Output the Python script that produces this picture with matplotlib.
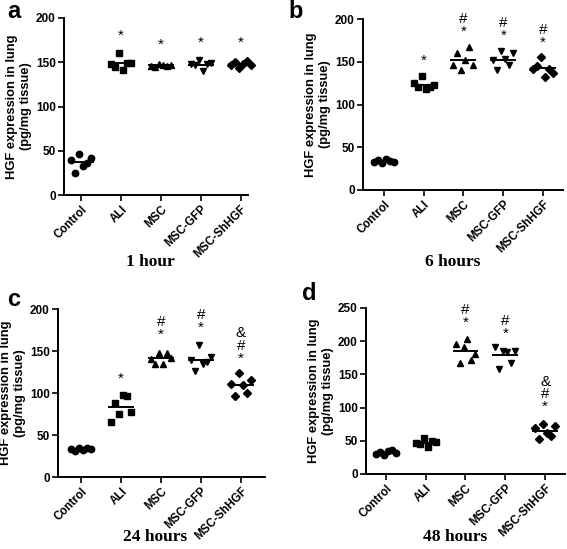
import matplotlib
matplotlib.use("Agg")
import matplotlib.pyplot as plt
import numpy as np

plt.rcParams['font.family'] = ['Liberation Sans', 'DejaVu Sans']

categories = ["Control", "ALI", "MSC", "MSC-GFP", "MSC-ShHGF"]
markers = ["o", "s", "^", "v", "D"]

# values per group (6 animals), panel a..d
a_vals = [[40, 25, 46, 33, 36, 42],
          [148, 145, 160, 141, 149, 149],
          [146, 145, 148, 147, 146, 147],
          [148, 147, 152, 140, 148, 149],
          [147, 150, 144, 148, 151, 147]]
b_vals = [[33, 35, 32, 36, 34, 33],
          [125, 120, 133, 118, 121, 123],
          [146, 160, 140, 152, 167, 146],
          [152, 140, 162, 153, 146, 160],
          [141, 145, 156, 132, 142, 137]]
c_vals = [[33, 31, 34, 32, 35, 33],
          [66, 88, 75, 98, 96, 77],
          [141, 135, 148, 135, 148, 142],
          [139, 126, 157, 135, 137, 143],
          [111, 97, 124, 110, 100, 115]]
d_vals = [[30, 33, 28, 35, 36, 32],
          [47, 45, 54, 40, 49, 48],
          [196, 167, 191, 203, 171, 180],
          [192, 158, 185, 184, 167, 185],
          [69, 52, 76, 62, 57, 73]]

# significance annotations: (group index, stacked symbols top-to-bottom, y of block centre)
a_sig = [(1, "*", 180), (2, "*", 170), (3, "*", 172), (4, "*", 172)]
b_sig = [(1, "*", 151), (2, "#\n*", 193), (3, "#\n*", 188), (4, "#\n*", 180)]
c_sig = [(1, "*", 117), (2, "#\n*", 177), (3, "#\n*", 185), (4, "&\n#\n*", 156)]
d_sig = [(2, "#\n*", 238), (3, "#\n*", 221), (4, "&\n#\n*", 120)]

titles = ["1 hour", "6 hours", "24 hours", "48 hours"]
letters = ["a", "b", "c", "d"]
ymax = [200, 200, 200, 250]
yticks = [np.arange(0, 201, 50), np.arange(0, 201, 50), np.arange(0, 201, 50), np.arange(0, 251, 50)]

W, H = 567, 549
fig = plt.figure(figsize=(W / 100, H / 100), dpi=100)

# axes boxes in pixels: left, right, top, bottom ; xlim
boxes = [(64, 248, 18, 195, (-0.43, 4.18)),
         (363, 563, 19, 190, (-0.52, 4.5)),
         (58, 265, 309, 477, (-0.57, 4.6)),
         (366, 565, 308, 474, (-0.5, 4.5))]

offsets = np.array([-0.25, -0.15, -0.05, 0.05, 0.15, 0.25])
all_vals = [a_vals, b_vals, c_vals, d_vals]
all_sig = [a_sig, b_sig, c_sig, d_sig]

for i in range(4):
    l, r, t, b, xl = boxes[i]
    ax = fig.add_axes([l / W, 1 - b / H, (r - l) / W, (b - t) / H])
    for g, vals in enumerate(all_vals[i]):
        v = np.array(vals, dtype=float)
        ms = 4.6 if markers[g] != "D" else 3.6
        ax.plot(g + offsets, v, linestyle="none", marker=markers[g], color="black",
                markersize=ms, clip_on=False)
        m = v.mean()
        ax.plot([g - 0.3, g + 0.3], [m, m], color="black", lw=1.4)
    for g, lab, y in all_sig[i]:
        ax.text(g, y, lab, ha="center", va="center", fontsize=11, color="black",
                linespacing=0.88, multialignment="center")
    ax.set_xlim(*xl)
    ax.set_ylim(0, ymax[i])
    ax.set_yticks(yticks[i])
    ax.set_xticks(range(5))
    ax.set_xticklabels(categories, rotation=45, ha="right", rotation_mode="anchor",
                       fontsize=8.3, fontweight="bold")
    for lbl in ax.get_yticklabels():
        lbl.set_fontweight("bold")
        lbl.set_fontsize(8.5)
    for s in ["top", "right"]:
        ax.spines[s].set_visible(False)
    for s in ["left", "bottom"]:
        ax.spines[s].set_linewidth(1.4)
    ax.tick_params(axis="both", width=1.2, length=4, pad=2)
    ax.set_ylabel("HGF expression in lung\n(pg/mg tissue)", fontsize=9.3,
                  fontweight="bold", labelpad=3, linespacing=1.2)
    fig.text((l + 0.47 * (r - l)) / W if i % 2 == 0 else (l + 0.45 * (r - l)) / W,
             1 - (262 if i < 2 else 537) / H, titles[i], ha="center", va="center",
             fontsize=12.5, fontweight="bold", family="Liberation Serif")
    lx = [14, 296, 14, 309][i]
    ly = [11, 11, 300, 294][i]
    fig.text(lx / W, 1 - ly / H, letters[i], ha="center", va="center",
             fontsize=17, fontweight="bold")

fig.savefig("out.png", dpi=100, facecolor="white")
